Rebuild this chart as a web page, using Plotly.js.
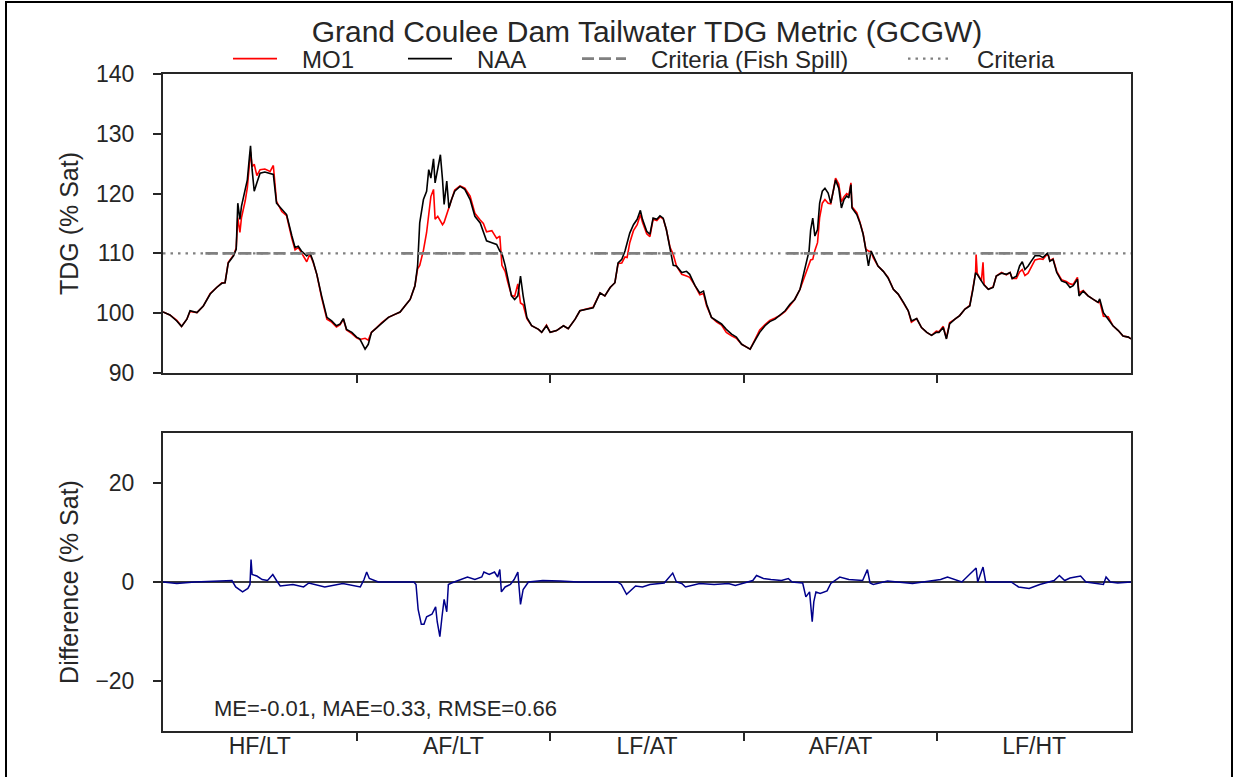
<!DOCTYPE html>
<html>
<head>
<meta charset="utf-8">
<script src="https://cdn.plot.ly/plotly-3.0.1.min.js"></script>
<style>
html,body{margin:0;padding:0;background:#fff;overflow:hidden;}
#chart{position:absolute;left:0;top:0;width:1255px;height:777px;}
#frame{position:absolute;left:5px;top:1px;width:1224px;height:900px;border:2.5px solid #000;border-bottom:none;pointer-events:none;}
</style>
</head>
<body>
<div id="chart"></div>
<div id="frame"></div>
<script>
// ---- data (day of 5-year record, 365 days per scenario year) ----
const yearLabels = ['HF/LT', 'AF/LT', 'LF/AT', 'AF/AT', 'LF/HT'];
const daysPerYear = 365;

const tdgDays = [
  0,13,26,35,45,51,64,76,89,101,111,117,123,133,138,141,145,148,155,159,163,165,168,172,177,183,192,202,208,214,224,233,243,249,255,261,271,277,283,290,299,309,318,327,334,340,346,356,365,
  371,381,387,393,403,412,425,437,447,456,466,475,480,484,491,497,501,505,510,513,518,523,527,530,535,539,544,550,560,569,579,588,598,604,610,620,629,635,639,645,650,657,663,669,674,679,686,695,708,714,723,730,
  742,755,764,777,786,799,811,824,833,843,852,858,865,871,875,880,887,894,900,904,912,918,924,931,937,943,949,956,962,968,978,987,993,1003,1012,1019,1025,1034,1044,1053,1062,1072,1081,1091,
  1097,1107,1116,1125,1135,1144,1154,1163,1173,1182,1191,1201,1207,1213,1218,1221,1225,1229,1234,1238,1243,1248,1254,1259,1264,1268,1274,1279,1284,1289,1293,1297,1299,1308,1314,1320,1325,1330,1335,1339,1348,1358,1367,1377,1386,1396,1405,1411,1421,1430,1440,1449,1458,
  1463,1471,1477,1483,1493,1502,1512,1521,1527,1532,1533,1535,1543,1546,1548,1556,1565,1571,1581,1590,1597,1601,1609,1615,1620,1625,1631,1637,1644,1653,1659,1668,1672,1678,1685,1694,1703,1710,1716,1724,1727,1735,1744,1754,1763,1766,1773,1782,1791,1801,1810,1820,1825
];

const naaTDG = [
  100.2,99.7,98.7,97.8,99.0,100.4,100.1,101.2,103.2,104.3,105.0,105.1,108.4,109.6,110.7,118.4,115.7,117.9,120.7,122.3,126.2,128.0,124.0,120.4,121.8,123.4,123.6,123.4,123.2,118.4,117.3,116.5,112.9,111.0,111.2,110.4,109.6,110.1,108.7,106.5,102.9,99.3,98.7,97.9,98.2,99.1,97.3,96.8,96.0,
  95.7,94.0,94.8,96.8,97.6,98.4,99.3,99.8,100.2,101.2,102.3,104.6,107.9,115.1,119.0,120.4,124.0,122.6,125.8,121.8,124.0,126.5,122.3,118.2,122.1,117.6,119.0,120.4,121.2,120.7,119.0,116.2,115.1,113.4,112.1,111.8,111.5,110.4,110.0,108.0,105.7,102.9,102.3,102.9,106.2,102.9,99.3,97.9,97.3,96.8,97.9,96.8,
  97.1,97.9,97.4,99.0,100.4,100.7,100.9,103.4,102.9,104.3,105.1,108.4,109.0,110.4,111.8,113.4,114.8,115.7,117.2,115.7,113.7,113.2,115.9,115.7,116.3,115.9,114.0,111.0,108.0,107.9,106.8,107.0,106.5,104.6,103.4,103.7,101.5,99.3,98.7,98.2,97.3,96.5,96.0,94.8,
  94.5,94.0,95.4,96.8,97.9,98.6,99.0,99.6,100.4,101.5,102.3,104.0,106.2,108.4,110.4,113.9,115.9,112.9,114.0,118.4,120.4,120.9,120.1,118.4,120.4,122.3,120.9,117.6,119.0,119.6,119.3,121.5,117.6,116.5,115.1,113.2,110.7,107.9,110.4,109.6,107.9,107.0,105.9,104.0,103.2,101.8,100.4,98.7,99.1,97.6,96.8,96.3,96.8,
  96.8,97.6,95.7,98.2,99.0,99.6,100.7,101.2,104.0,106.8,106.6,106.5,105.4,105.0,104.7,104.0,104.3,106.2,106.7,106.5,106.8,105.8,106.2,107.9,108.6,107.3,107.9,108.7,109.6,109.6,109.3,110.1,108.7,109.0,106.8,105.4,105.1,104.3,104.6,105.7,102.9,103.7,102.9,102.3,101.8,102.4,100.1,99.0,97.9,97.1,96.2,96.0,95.7
];

const mo1TDG = [
  100.2,99.7,98.8,97.8,99.0,100.3,100.1,101.2,103.3,104.3,105.1,105.1,108.5,109.7,110.9,116.0,113.5,116.0,118.8,121.0,125.8,127.0,124.5,124.9,123.0,124.0,124.1,123.7,124.7,118.7,117.0,116.3,112.5,110.6,111.0,110.0,108.6,109.9,108.5,106.5,102.6,99.0,98.5,97.7,98.1,99.0,97.2,96.6,95.9,
  95.6,95.8,95.5,96.8,97.6,98.4,99.3,99.8,100.2,101.2,102.3,104.6,107.4,108.0,110.5,113.5,116.8,119.5,120.7,115.7,116.2,115.3,114.8,115.2,116.5,117.4,119.0,120.6,121.3,120.9,119.6,116.7,115.6,115.0,113.6,113.8,112.5,112.9,108.0,107.0,105.2,103.0,102.8,104.9,101.7,101.4,99.1,97.9,97.3,96.8,98.0,96.8,
  97.1,97.9,97.4,99.0,100.4,100.7,101.0,103.4,102.9,104.3,105.1,108.3,108.4,109.4,109.3,111.8,113.8,114.8,116.5,115.2,113.3,112.8,115.7,115.5,116.1,115.8,114.0,111.0,109.8,107.9,106.5,106.2,106.0,104.6,103.1,103.3,101.2,99.3,98.5,98.0,96.8,96.2,95.8,94.8,
  94.5,94.0,95.6,97.2,98.1,98.8,99.2,99.6,100.3,101.3,102.3,104.0,105.5,106.8,108.0,108.9,109.0,110.5,111.8,116.0,118.4,119.0,118.4,118.3,120.6,122.6,121.6,118.6,119.5,120.0,119.7,121.8,117.8,116.8,115.2,113.3,110.7,110.4,110.3,109.3,107.9,107.0,106.0,104.0,103.2,101.8,100.4,98.5,99.1,97.6,96.8,96.3,97.0,
  96.9,97.8,95.8,98.4,99.0,99.6,100.7,101.3,104.2,106.8,109.8,106.7,105.4,108.5,104.8,104.0,104.4,106.2,106.8,106.4,106.8,105.8,105.8,106.9,107.3,106.3,106.7,107.7,108.9,109.1,109.0,110.0,108.8,109.1,107.0,105.6,105.3,104.9,104.8,106.0,103.4,103.8,102.9,102.3,101.8,102.0,99.5,99.4,97.9,97.1,96.2,96.0,95.7
];

const diffDays = [
  0,26,60,100,130,137,150,160,164,166,168,177,187,197,207,214,221,245,265,275,305,339,372,379,384,389,406,
  473,477,481,487,492,497,507,514,517,522,526,530,535,538,544,554,574,588,601,605,615,625,631,635,638,645,655,662,669,674,679,689,716,749,783,
  857,864,874,884,891,904,918,945,961,968,978,985,1005,1012,1039,1066,1079,
  1112,1119,1132,1146,1166,1179,1186,1206,1209,1212,1219,1224,1227,1231,1239,1252,1259,1269,1276,1293,1319,1328,1333,1339,1366,1413,
  1466,1479,1506,1533,1536,1546,1551,1599,1613,1633,1653,1680,1690,1700,1710,1720,1730,1740,1773,1778,1786,1800,1825
];

const diffTDG = [
  0,-0.3,0,0.1,0.3,-1.0,-2.0,-1.3,-0.5,4.5,1.5,1.2,0.5,0.3,1.5,0.3,-0.8,-0.5,-1.0,-0.2,-1.0,-0.3,-1.0,0.5,2.0,0.7,0,
  0,-0.5,-5.5,-8.5,-8.5,-7.0,-6.5,-5.0,-8.0,-11.0,-7.0,-3.5,-6.0,-0.5,-0.2,0.2,1.0,0.5,1.0,2.0,1.5,2.0,1.0,2.5,-2.0,-1.0,-0.5,0.5,2.0,-4.5,-1.5,0,0.3,0.2,0,
  0,-0.5,-2.5,-1.5,-0.8,-1.0,-0.5,-0.2,1.8,0,-0.3,-1.0,-0.5,-0.3,-0.5,-0.3,-0.7,
  0.3,1.3,0.7,0.5,0.3,0.7,0,-0.2,-1.5,-3.0,-2.0,-8.0,-4.0,-2.0,-2.3,-1.8,-0.3,0.5,1.0,0.5,0.3,2.5,-0.2,-0.5,0.2,-0.3,
  0.5,1.0,0,2.8,0,3.0,0,0,-1.0,-1.3,-0.5,0.3,1.3,0.3,0.8,1.0,1.2,0,-0.5,1.0,0,-0.2,0
];

const criteriaTDG = 110;
const spillStart = [80, 449, 813, 1176, 1543];
const spillEnd = [285, 638, 960, 1331, 1693];
const statsText = 'ME=-0.01, MAE=0.33, RMSE=0.66';

// ---- derived plotting helpers ----
const xEnd = daysPerYear * yearLabels.length;
const boundaries = yearLabels.slice(1).map((_, i) => (i + 1) * daysPerYear);
const centers = yearLabels.map((_, i) => (i + 0.5) * daysPerYear);
const spillX = [], spillY = [];
spillStart.forEach((s, i) => { spillX.push(s, spillEnd[i], null); spillY.push(criteriaTDG, criteriaTDG, null); });

const FONT = '"Liberation Sans", Arial, sans-serif';
const INK = '#262626';
const PAD = '\u00a0\u00a0\u00a0'; // gap between legend handle and label

const traces = [
  {x: tdgDays, y: mo1TDG, type: 'scatter', mode: 'lines', name: PAD + 'MO1',
   line: {color: '#ff0000', width: 1.6}, xaxis: 'x', yaxis: 'y', legend: 'legend'},
  {x: tdgDays, y: naaTDG, type: 'scatter', mode: 'lines', name: PAD + 'NAA',
   line: {color: '#000000', width: 1.6}, xaxis: 'x', yaxis: 'y', legend: 'legend2'},
  {x: spillX, y: spillY, type: 'scatter', mode: 'lines', name: PAD + 'Criteria (Fish Spill)',
   line: {color: '#808080', width: 2.6, dash: '12px,5px'}, xaxis: 'x', yaxis: 'y', legend: 'legend3', connectgaps: false},
  {x: [0, xEnd], y: [criteriaTDG, criteriaTDG], type: 'scatter', mode: 'lines', name: PAD + 'Criteria',
   line: {color: '#808080', width: 2.2, dash: '2.5px,5px'}, xaxis: 'x', yaxis: 'y', legend: 'legend4'},
  {x: diffDays, y: diffTDG, type: 'scatter', mode: 'lines', name: 'Difference',
   line: {color: '#00008b', width: 1.5}, xaxis: 'x2', yaxis: 'y2', showlegend: false}
];

const commonAxis = {showline: true, mirror: true, linecolor: INK, linewidth: 2, showgrid: false,
  tickfont: {family: FONT, size: 23, color: INK}};
const minorTicks = {tickmode: 'array', tickvals: boundaries, ticks: 'outside', ticklen: 8, tickwidth: 2, tickcolor: INK, showgrid: false};

const legendBase = {orientation: 'h', yanchor: 'middle', y: 1.0228, xanchor: 'left',
  bgcolor: 'rgba(0,0,0,0)', borderwidth: 0, itemwidth: 44, font: {family: FONT, size: 24, color: INK}};

const layout = {
  width: 1255, height: 777,
  margin: {l: 163, r: 124, t: 74, b: 46},
  paper_bgcolor: '#ffffff', plot_bgcolor: '#ffffff',
  font: {family: FONT, color: INK, size: 23},
  title: {text: 'Grand Coulee Dam Tailwater TDG Metric (GCGW)', font: {family: FONT, size: 30, color: INK},
    x: 0.5, xref: 'paper', xanchor: 'center', y: 1 - 31 / 777, yref: 'container', yanchor: 'middle'},
  showlegend: true,
  legend: Object.assign({}, legendBase, {x: (228 - 163) / 968}),
  legend2: Object.assign({}, legendBase, {x: (403 - 163) / 968}),
  legend3: Object.assign({}, legendBase, {x: (577 - 163) / 968}),
  legend4: Object.assign({}, legendBase, {x: (903 - 163) / 968}),
  xaxis: Object.assign({}, commonAxis, {domain: [0, 1], range: [0, xEnd], anchor: 'y', zeroline: false,
    showticklabels: false, ticks: '', minor: minorTicks}),
  xaxis2: Object.assign({}, commonAxis, {domain: [0, 1], range: [0, xEnd], anchor: 'y2', zeroline: false,
    tickmode: 'array', tickvals: centers, ticktext: yearLabels, ticks: '', minor: minorTicks, ticklabelstandoff: -7}),
  yaxis: Object.assign({}, commonAxis, {domain: [0.5449, 1], range: [90, 140], tick0: 90, dtick: 10, anchor: 'x',
    ticks: 'outside', ticklen: 8, tickwidth: 2, tickcolor: INK, zeroline: false, ticklabelstandoff: 14,
    title: {text: 'TDG (% Sat)', font: {family: FONT, size: 25, color: INK}, standoff: 10}}),
  yaxis2: Object.assign({}, commonAxis, {domain: [0, 0.4536], range: [-30, 30], tick0: 0, dtick: 20, anchor: 'x2',
    ticks: 'outside', ticklen: 8, tickwidth: 2, tickcolor: INK, ticklabelstandoff: 14,
    zeroline: true, zerolinecolor: '#3a3a3a', zerolinewidth: 1.5,
    title: {text: 'Difference (% Sat)', font: {family: FONT, size: 25, color: INK}, standoff: 10}}),
  annotations: [{text: statsText, xref: 'paper', yref: 'y2', x: (212 - 163) / 968, y: -25.4,
    xanchor: 'left', yanchor: 'middle', showarrow: false, font: {family: FONT, size: 22, color: INK}}]
};

Plotly.newPlot('chart', traces, layout, {staticPlot: true, displayModeBar: false});
</script>
</body>
</html>
